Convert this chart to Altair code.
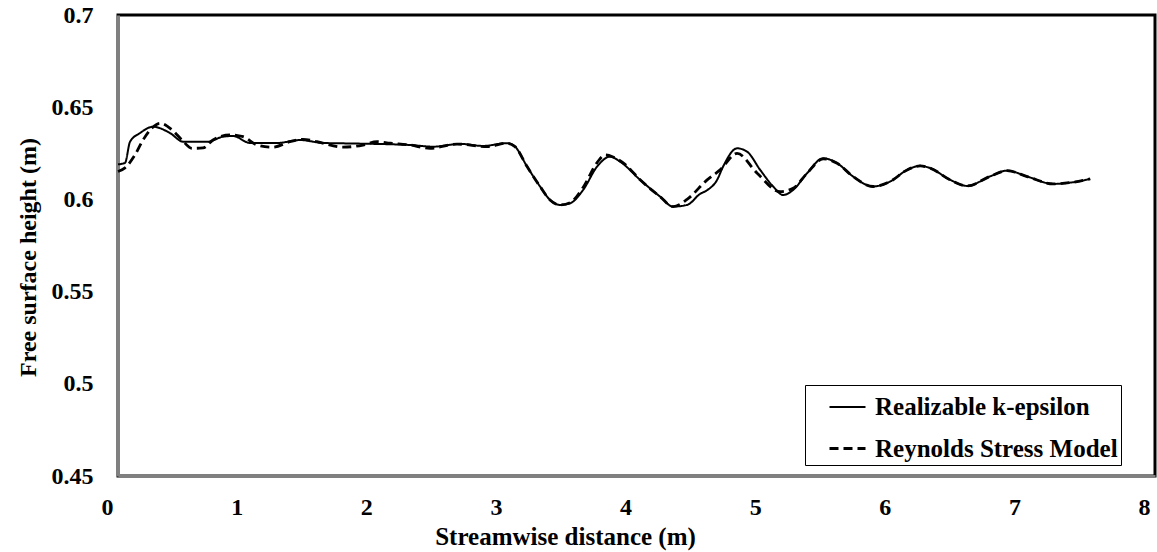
import altair as alt
import pandas as pd

# Realizable k-epsilon (solid)
x_solid = [0.000, 0.054, 0.093, 0.170, 0.270, 0.401, 0.502, 0.687, 0.810, 0.887,
           1.019, 1.227, 1.404, 1.582, 1.736, 2.253, 2.431, 2.639, 2.816, 3.001,
           3.063, 3.156, 3.256, 3.333, 3.410, 3.488, 3.588, 3.696, 3.796, 3.873,
           4.028, 4.182, 4.282, 4.390, 4.491, 4.545, 4.622, 4.668, 4.776, 4.853,
           4.954, 5.054, 5.131, 5.208, 5.316, 5.440, 5.548, 5.671, 5.826, 5.957,
           6.088, 6.188, 6.265, 6.420, 6.551, 6.728, 6.860, 7.014, 7.215, 7.346,
           7.500]
y_solid = [0.6190, 0.6198, 0.6313, 0.6360, 0.6394, 0.6360, 0.6313, 0.6312, 0.6340, 0.6344,
           0.6306, 0.6306, 0.6322, 0.6306, 0.6304, 0.6295, 0.6286, 0.6301, 0.6290, 0.6305,
           0.6286, 0.6178, 0.6070, 0.5997, 0.5970, 0.5979, 0.6051, 0.6178, 0.6232, 0.6205,
           0.6106, 0.6015, 0.5961, 0.5970, 0.6030, 0.6050, 0.6106, 0.6178, 0.6277, 0.6259,
           0.6160, 0.6070, 0.6024, 0.6051, 0.6142, 0.6223, 0.6196, 0.6124, 0.6070, 0.6097,
           0.6160, 0.6182, 0.6170, 0.6106, 0.6073, 0.6125, 0.6156, 0.6124, 0.6084, 0.6091,
           0.6111]

# Reynolds Stress Model (dashed)
x_dash = [0.000, 0.054, 0.131, 0.193, 0.262, 0.324, 0.417, 0.494, 0.571, 0.656,
          0.733, 0.864, 0.965, 1.073, 1.196, 1.327, 1.427, 1.535, 1.736, 1.890,
          1.998, 2.099, 2.253, 2.407, 2.616, 2.847, 3.001, 3.063, 3.156, 3.256,
          3.333, 3.410, 3.488, 3.588, 3.696, 3.758, 3.819, 3.912, 4.028, 4.182,
          4.282, 4.390, 4.545, 4.645, 4.776, 4.931, 5.108, 5.208, 5.316, 5.440,
          5.548, 5.671, 5.826, 5.957, 6.088, 6.188, 6.265, 6.420, 6.551, 6.728,
          6.860, 7.014, 7.215, 7.346, 7.500]
y_dash = [0.6151, 0.6171, 0.6241, 0.6322, 0.6387, 0.6413, 0.6377, 0.6322, 0.6277, 0.6279,
          0.6322, 0.6350, 0.6340, 0.6295, 0.6283, 0.6313, 0.6326, 0.6313, 0.6283, 0.6295,
          0.6313, 0.6305, 0.6295, 0.6277, 0.6300, 0.6286, 0.6305, 0.6286, 0.6178, 0.6070,
          0.5997, 0.5970, 0.5982, 0.6065, 0.6200, 0.6241, 0.6230, 0.6190, 0.6106, 0.6015,
          0.5961, 0.6000, 0.6106, 0.6160, 0.6250, 0.6142, 0.6042, 0.6060, 0.6142, 0.6220,
          0.6196, 0.6124, 0.6070, 0.6097, 0.6160, 0.6182, 0.6170, 0.6106, 0.6073, 0.6125,
          0.6156, 0.6124, 0.6084, 0.6091, 0.6111]

series_names = ["Realizable k-epsilon", "Reynolds Stress Model"]
x_ticks = [0, 1, 2, 3, 4, 5, 6, 7, 8]
y_ticks = [0.45, 0.5, 0.55, 0.6, 0.65, 0.7]

df = pd.concat([
    pd.DataFrame({"x": x_solid, "y": y_solid, "series": series_names[0], "order": range(len(x_solid))}),
    pd.DataFrame({"x": x_dash, "y": y_dash, "series": series_names[1], "order": range(len(x_dash))}),
])

FONT = "Liberation Serif"

chart = alt.Chart(df).mark_line(color="black", interpolate="monotone").encode(
    x=alt.X("x:Q",
            scale=alt.Scale(domain=[0, 8], nice=False, zero=False),
            axis=alt.Axis(values=x_ticks, format="d", title="Streamwise distance (m)",
                          grid=False, ticks=False, labelPadding=19, labelFlush=False, labelOffset=-11,
                          domainColor="#808080", domainWidth=3,
                          labelFont=FONT, labelFontSize=24, labelFontWeight="bold", labelColor="black",
                          titleFont=FONT, titleFontSize=25, titleFontWeight="bold", titleColor="black",
                          titleX=447, titleY=60, titleBaseline="middle", titleAnchor="start", titleAlign="center")),
    y=alt.Y("y:Q",
            scale=alt.Scale(domain=[0.45, 0.7], nice=False, zero=False),
            axis=alt.Axis(values=y_ticks, format=".2~f", title="Free surface height  (m)",
                          grid=False, ticks=False, labelPadding=25,
                          domainColor="#808080", domainWidth=3,
                          labelFont=FONT, labelFontSize=24, labelFontWeight="bold", labelColor="black",
                          titleFont=FONT, titleFontSize=24, titleFontWeight="bold", titleColor="black",
                          titleX=-90, titleY=242, titleAngle=270, titleBaseline="middle", titleAlign="center",
                          titleAnchor="start")),
    strokeDash=alt.StrokeDash("series:N",
                              scale=alt.Scale(domain=series_names, range=[[1, 0], [9, 5]]),
                              legend=alt.Legend(title=None, orient="none", legendX=687, legendY=370,
                                                symbolType="stroke", symbolSize=1296,
                                                symbolStrokeWidth=2.5, symbolStrokeColor="black",
                                                symbolOffset=20, labelOffset=8,
                                                padding=3, rowPadding=9,
                                                strokeColor="black", fillColor="white",
                                                labelFont=FONT, labelFontSize=25, labelFontWeight="bold",
                                                labelColor="black", labelLimit=400)),
    strokeWidth=alt.StrokeWidth("series:N",
                                scale=alt.Scale(domain=series_names, range=[2, 2.8]),
                                legend=None),
    order="order:Q",
).properties(
    width=1037,
    height=461,
    autosize=alt.AutoSizeParams(type="none"),
    padding={"left": 118, "top": 15, "right": 2, "bottom": 76},
).configure(
    background="white"
).configure_view(
    stroke="black", strokeWidth=3
)

chart.save("out.html", embed_options={"renderer": "svg", "actions": False})
